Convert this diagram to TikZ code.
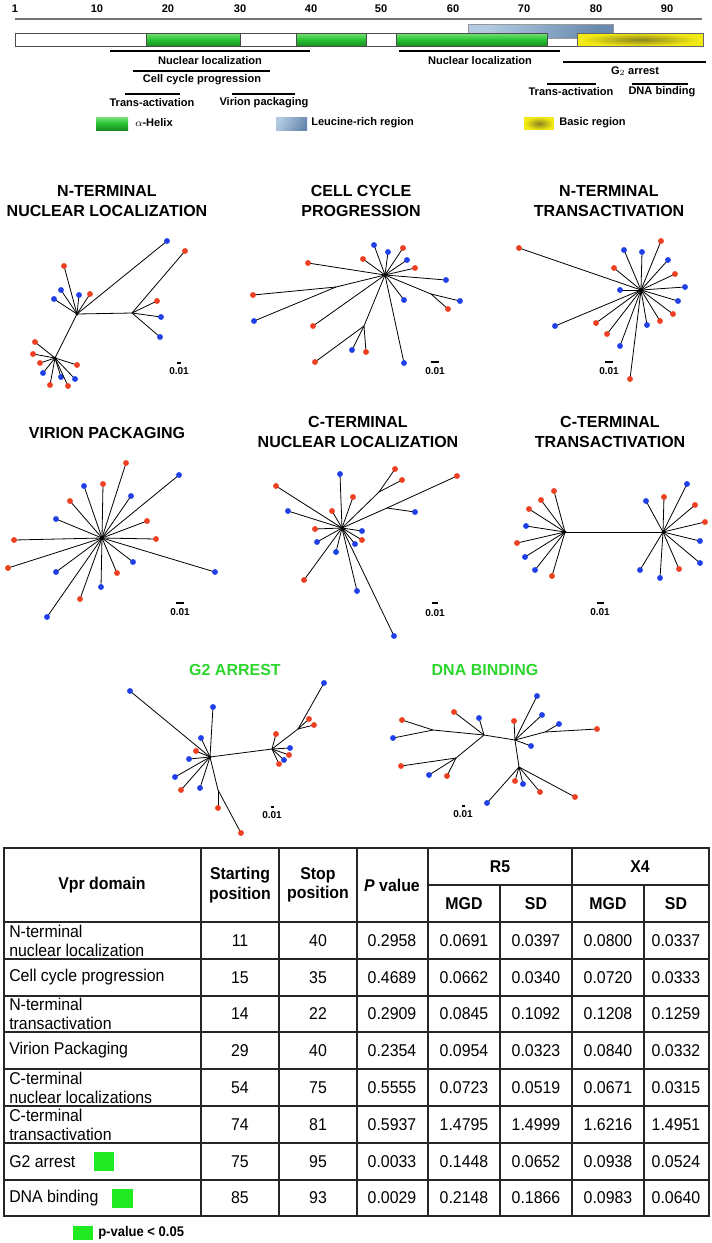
\documentclass[tikz,border=0pt]{standalone}
\usepackage{fontspec}
\setmainfont{Liberation Sans}
\newfontfamily\tabfont[FakeStretch=0.93]{Liberation Sans}
\definecolor{dred}{RGB}{236,64,32}
\definecolor{dblue}{RGB}{30,64,230}
\definecolor{tgreen}{RGB}{44,214,44}
\definecolor{sqgreen}{RGB}{34,234,34}
\definecolor{hgreenA}{RGB}{120,225,120}
\definecolor{hgreenB}{RGB}{40,195,50}
\definecolor{hgreenC}{RGB}{25,140,35}
\definecolor{leuA}{RGB}{178,202,226}
\definecolor{leuB}{RGB}{104,138,174}
\definecolor{basY}{RGB}{242,234,20}
\definecolor{basD}{RGB}{140,130,30}
\newcommand\leafset[2]{%
  \foreach \hh/\xx/\yy/\cc [count=\i] in {#2} {
    \coordinate (#1L\i) at (\xx,\yy);
    \draw[br] (\hh) -- (#1L\i);
    \node[\cc] (#1D\i) at (#1L\i) {};
  }}
\begin{document}
\begin{tikzpicture}[x=0.75pt,y=-0.75pt,
  lbl/.style={font=\bfseries\fontsize{8.3}{10}\selectfont,inner sep=0pt},
  ttl/.style={font=\bfseries\fontsize{12}{14.4}\selectfont,align=center,inner sep=0pt},
  gttl/.style={ttl,text=tgreen},
  sclbl/.style={font=\bfseries\fontsize{7.5}{9}\selectfont,inner sep=0pt},
  br/.style={line width=0.6pt,black},
  rd/.style={circle,fill=dred,inner sep=0pt,minimum size=4.4pt},
  bl/.style={circle,fill=dblue,inner sep=0pt,minimum size=4.4pt},
  hubdot/.style={circle,fill=black,inner sep=0pt,minimum size=2.6pt},
  domline/.style={line width=1.5pt,black},
  scbar/.style={line width=1.1pt,black},
  helix/.style={draw=black!70,line width=0.5pt,top color=hgreenA,bottom color=hgreenC,middle color=hgreenB},
  tline/.style={line width=0.9pt,black!85},
  tc/.style={font=\tabfont\fontsize{12.8}{14.2}\selectfont,inner sep=0pt},
  th/.style={font=\tabfont\bfseries\fontsize{12.8}{14.6}\selectfont,inner sep=0pt,align=center},
  tl/.style={tc,anchor=west,align=left},
  sq/.style={fill=sqgreen,draw=none}
]
\useasboundingbox (0,0) rectangle (712,1243);
\fill[white] (0,0) rectangle (712,1243);
% ---------- ruler ----------
\foreach \t/\px in {1/15,10/97,20/168,30/240,40/311,50/381,60/453,70/524,80/596,90/667}
  \node[lbl] (r\t) at (\px,9) {\t};
\draw[line width=0.8pt,black!55] (15,19) -- (702,19);
% ---------- domain bar ----------
\draw[black!70,line width=0.6pt,fill=white] (15,33) rectangle (703,46);
\shade[left color=leuA,right color=leuB,shading angle=60,draw=black!40,line width=0.4pt] (468,24) rectangle (613,38);
\draw[helix] (146,33) rectangle (240,46);
\draw[helix] (296,33) rectangle (366,46);
\draw[helix] (396,33) rectangle (547,46);
\fill[basY] (577,33) rectangle (703,46);
\begin{scope}
  \clip (577,33) rectangle (703,46);
  \shade[inner color=basD,outer color=basY] (640,39.5) ellipse (58 and 6.5);
\end{scope}
\draw[black!60,line width=0.5pt] (577,33) rectangle (703,46);
% ---------- domain lines ----------
\draw[domline] (110,51) -- (310,51);
\node[lbl] (nl1) at (210,61) {Nuclear localization};
\draw[domline] (133,71) -- (270,71);
\node[lbl] (ccp) at (202,80) {Cell cycle progression};
\draw[domline] (125,94) -- (180,94);
\node[lbl] (ta1) at (152,103) {Trans-activation};
\draw[domline] (232,94) -- (295,94);
\node[lbl] (vp) at (264,103) {Virion packaging};
\draw[domline] (399,51) -- (560,51);
\node[lbl] (nl2) at (480,61) {Nuclear localization};
\draw[domline] (563,62) -- (706,62);
\node[lbl] (g2) at (635,71) {G$_2$ arrest};
\draw[domline] (547,84) -- (596,84);
\node[lbl] (ta2) at (571,92) {Trans-activation};
\draw[domline] (632,84) -- (688,84);
\node[lbl] (dnab) at (662,92) {DNA binding};
% ---------- legend ----------
\draw[helix,draw=none] (96,117) rectangle (128,130);
\node[lbl,anchor=west] (lg1) at (135,123) {$\alpha$-Helix};
\shade[left color=leuA,right color=leuB,shading angle=60] (276,117) rectangle (307,130);
\node[lbl,anchor=west] (lg2) at (311,123) {Leucine-rich region};
\fill[basY] (524,117) rectangle (554,130);
\begin{scope}
  \clip (524,117) rectangle (554,130);
  \shade[inner color=basD,outer color=basY] (539,123.5) ellipse (14 and 6.5);
\end{scope}
\node[lbl,anchor=west] (lg3) at (559,123) {Basic region};
% ---------- titles ----------
\node[ttl] (t1) at (107,201) {N-TERMINAL\\NUCLEAR LOCALIZATION};
\node[ttl] (t2) at (361,201) {CELL CYCLE\\PROGRESSION};
\node[ttl] (t3) at (609,201) {N-TERMINAL\\TRANSACTIVATION};
\node[ttl] (t4) at (107,433) {VIRION PACKAGING};
\node[ttl] (t5) at (358,432) {C-TERMINAL\\NUCLEAR LOCALIZATION};
\node[ttl] (t6) at (610,432) {C-TERMINAL\\TRANSACTIVATION};
\node[gttl] (t7) at (235,670) {G2 ARREST};
\node[gttl] (t8) at (485,670) {DNA BINDING};
% ---------- tree 1 ----------
\coordinate (a1A) at (77,314); \coordinate (a1B) at (132,313); \coordinate (a1C) at (55,358);
\draw[br] (a1A) -- (a1B); \draw[br] (a1A) -- (a1C);
\leafset{a1}{a1A/64/266/rd, a1A/61/290/bl, a1A/54/299/bl, a1A/79/295/bl, a1A/90/294/rd, a1A/167/241/bl,
  a1B/185/251/rd, a1B/157/301/rd, a1B/161/317/bl, a1B/160/337/bl,
  a1C/35/342/rd, a1C/33/354/rd, a1C/40/363/rd, a1C/77/365/rd, a1C/43/373/bl, a1C/61/377/bl, a1C/75/379/bl, a1C/50/385/rd, a1C/68/386/rd}
\node[hubdot] (a1Ah) at (a1A) {}; \node[hubdot] (a1Ch) at (a1C) {};
\draw[scbar] (177,363) -- (181,363); \node[sclbl] (s1) at (179,371) {0.01};
% ---------- tree 2 ----------
\coordinate (b2H) at (385,275); \coordinate (b2P) at (336,287); \coordinate (b2Q) at (364,326); \coordinate (b2R) at (431,294);
\draw[br] (b2H) -- (b2P); \draw[br] (b2H) -- (b2Q); \draw[br] (b2H) -- (b2R);
\leafset{b2}{b2H/374/245/bl, b2H/388/252/bl, b2H/403/248/rd, b2H/407/260/bl, b2H/415/268/rd, b2H/363/259/rd, b2H/308/263/rd, b2H/446/280/bl, b2H/404/300/bl, b2H/404/363/bl, b2H/313/326/rd,
  b2P/253/295/rd, b2P/254/321/bl, b2Q/352/350/bl, b2Q/366/352/rd, b2Q/315/362/rd, b2R/460/301/bl, b2R/448/309/rd}
\node[hubdot] (b2Hh) at (b2H) {};
\draw[scbar] (431,362) -- (439,362); \node[sclbl] (s2) at (435,371) {0.01};
% ---------- tree 3 ----------
\coordinate (c3H) at (641,290);
\leafset{c3}{c3H/519/248/rd, c3H/624/250/bl, c3H/642/252/bl, c3H/661/241/rd, c3H/668/260/bl, c3H/614/268/rd, c3H/675/274/rd, c3H/685/287/bl, c3H/620/290/bl, c3H/678/301/bl, c3H/673/314/rd, c3H/660/321/rd, c3H/647/325/bl, c3H/596/323/rd, c3H/607/334/rd, c3H/620/346/bl, c3H/555/326/bl, c3H/630/379/rd}
\node[hubdot] (c3Hh) at (c3H) {};
\draw[scbar] (605,362) -- (613,362); \node[sclbl] (s3) at (609,371) {0.01};
% ---------- tree 4 ----------
\coordinate (d4H) at (102,538);
\leafset{d4}{d4H/126/463/rd, d4H/179/475/bl, d4H/84/486/bl, d4H/103/484/rd, d4H/131/496/bl, d4H/70/501/rd, d4H/56/519/bl, d4H/147/521/rd, d4H/14/540/rd, d4H/156/539/rd, d4H/8/568/rd, d4H/56/572/bl, d4H/133/562/bl, d4H/117/573/rd, d4H/101/587/bl, d4H/80/599/rd, d4H/47/617/bl, d4H/215/572/bl}
\node[hubdot] (d4Hh) at (d4H) {};
\draw[scbar] (176,603) -- (184,603); \node[sclbl] (s4) at (180,612) {0.01};
% ---------- tree 5 ----------
\coordinate (e5H) at (342,528); \coordinate (e5P) at (379,492); \coordinate (e5Q) at (387,508);
\draw[br] (e5H) -- (e5P); \draw[br] (e5H) -- (e5Q);
\leafset{e5}{e5H/340/474/bl, e5H/276/486/rd, e5H/353/497/rd, e5H/332/511/rd, e5H/288/511/bl, e5H/315/529/rd, e5H/362/531/bl, e5H/362/540/rd, e5H/317/542/bl, e5H/355/544/bl, e5H/336/552/bl, e5H/304/580/rd, e5H/357/591/bl, e5H/394/636/bl,
  e5P/395/469/rd, e5P/402/480/rd, e5Q/457/476/rd, e5Q/415/512/bl}
\node[hubdot] (e5Hh) at (e5H) {};
\draw[scbar] (432,603) -- (438,603); \node[sclbl] (s5) at (435,613) {0.01};
% ---------- tree 6 ----------
\coordinate (f6L) at (565,532); \coordinate (f6R) at (663,532);
\draw[br] (f6L) -- (f6R);
\leafset{f6}{f6L/554/491/rd, f6L/541/500/rd, f6L/529/509/rd, f6L/526/526/bl, f6L/517/543/rd, f6L/525/557/bl, f6L/535/570/bl, f6L/552/576/rd,
  f6R/646/501/bl, f6R/664/497/rd, f6R/687/484/bl, f6R/695/505/rd, f6R/705/522/rd, f6R/700/541/bl, f6R/700/563/bl, f6R/679/569/rd, f6R/660/578/bl, f6R/640/570/bl}
\node[hubdot] (f6Lh) at (f6L) {}; \node[hubdot] (f6Rh) at (f6R) {};
\draw[scbar] (597,603) -- (604,603); \node[sclbl] (s6) at (600,612) {0.01};
% ---------- tree 7 ----------
\coordinate (g7L) at (210,757); \coordinate (g7R) at (272,749); \coordinate (g7S) at (298,729); \coordinate (g7D) at (218,790);
\draw[br] (g7L) -- (g7R); \draw[br] (g7R) -- (g7S); \draw[br] (g7L) -- (g7D);
\leafset{g7}{g7S/324/683/bl, g7S/309/719/rd, g7S/314/725/rd, g7R/276/734/rd, g7R/290/748/bl, g7R/289/755/rd, g7R/284/760/bl, g7R/279/764/rd,
  g7L/130/691/bl, g7L/213/707/bl, g7L/201/738/bl, g7L/196/751/rd, g7L/189/759/bl, g7L/175/777/bl, g7L/181/790/rd, g7L/200/788/bl,
  g7D/218/808/rd, g7D/241/833/rd}
\node[hubdot] (g7Lh) at (g7L) {};
\draw[scbar] (271,807) -- (274,807); \node[sclbl] (s7) at (272,815) {0.01};
% ---------- tree 8 ----------
\coordinate (h8a) at (484,735); \coordinate (h8b) at (515,740); \coordinate (h8c) at (519,767);
\coordinate (h8d) at (433,730); \coordinate (h8e) at (456,758); \coordinate (h8f) at (545,732);
\draw[br] (h8a) -- (h8b); \draw[br] (h8b) -- (h8c); \draw[br] (h8a) -- (h8d); \draw[br] (h8a) -- (h8e); \draw[br] (h8b) -- (h8f);
\leafset{h8}{h8d/402/720/rd, h8d/393/738/bl, h8e/401/766/rd, h8e/429/775/bl, h8e/447/776/rd, h8a/454/712/rd, h8a/479/718/bl,
  h8b/514/721/rd, h8b/537/696/bl, h8b/542/715/bl, h8b/531/746/bl, h8f/559/724/bl, h8f/597/729/rd,
  h8c/515/781/rd, h8c/523/784/bl, h8c/540/792/rd, h8c/575/797/rd, h8c/487/803/bl}
\draw[scbar] (462,806) -- (465,806); \node[sclbl] (s8) at (463,814) {0.01};
% ---------- table ----------
\draw[tline] (4,848) rectangle (709,1216);
\foreach \xx in {201,279,357,428,572} \draw[tline] (\xx,848) -- (\xx,1216);
\foreach \xx in {500,644} \draw[tline] (\xx,885) -- (\xx,1216);
\draw[tline] (428,885) -- (709,885);
\foreach \yy in {922,959,996,1032,1069,1106,1143,1180} \draw[tline] (4,\yy) -- (709,\yy);
\node[th] (hVpr) at (102,885) {Vpr domain};
\node[th] (hStart) at (240,885) {Starting\\position};
\node[th] (hStop) at (318,885) {Stop\\position};
\node[th] (hP) at (392,885) {\textit{P} value};
\node[th] (hR5) at (500,866.5) {R5};
\node[th] (hX4) at (640,866.5) {X4};
\node[th] (hM1) at (464,903.5) {MGD};
\node[th] (hS1) at (536,903.5) {SD};
\node[th] (hM2) at (608,903.5) {MGD};
\node[th] (hS2) at (676,903.5) {SD};
\node[tl] (d1) at (9,940.5) {N-terminal\\nuclear localization};
\node[tl] (d2) at (9,977.5) {Cell cycle progression};
\node[tl] (d3) at (9,1014) {N-terminal\\transactivation};
\node[tl] (d4) at (9,1050.5) {Virion Packaging};
\node[tl] (d5) at (9,1087.5) {C-terminal\\nuclear localizations};
\node[tl] (d6) at (9,1124.5) {C-terminal\\transactivation};
\node[tl] (d7) at (9,1161.5) {G2 arrest};
\node[tl] (d8) at (9,1198) {DNA binding};
\fill[sq] (94,1152) rectangle (114,1171);
\fill[sq] (112,1189) rectangle (133,1208);
\foreach \yy/\va/\vb/\vp/\vm/\vs/\vmm/\vss [count=\r] in {
  940.5/11/40/0.2958/0.0691/0.0397/0.0800/0.0337,
  977.5/15/35/0.4689/0.0662/0.0340/0.0720/0.0333,
  1014/14/22/0.2909/0.0845/0.1092/0.1208/0.1259,
  1050.5/29/40/0.2354/0.0954/0.0323/0.0840/0.0332,
  1087.5/54/75/0.5555/0.0723/0.0519/0.0671/0.0315,
  1124.5/74/81/0.5937/1.4795/1.4999/1.6216/1.4951,
  1161.5/75/95/0.0033/0.1448/0.0652/0.0938/0.0524,
  1198/85/93/0.0029/0.2148/0.1866/0.0983/0.0640} {
  \node[tc] (st\r) at (240,\yy) {\va};
  \node[tc] (sp\r) at (318,\yy) {\vb};
  \node[tc] (pv\r) at (392,\yy) {\vp};
  \node[tc] (mr\r) at (464,\yy) {\vm};
  \node[tc] (sr\r) at (536,\yy) {\vs};
  \node[tc] (mx\r) at (608,\yy) {\vmm};
  \node[tc] (sx\r) at (676,\yy) {\vss};
}
\fill[sq] (73,1226) rectangle (93,1240);
\node[th,anchor=west,font=\tabfont\bfseries\fontsize{10.5}{12}\selectfont] (pleg) at (98,1233) {p-value < 0.05};
\end{tikzpicture}
\end{document}
